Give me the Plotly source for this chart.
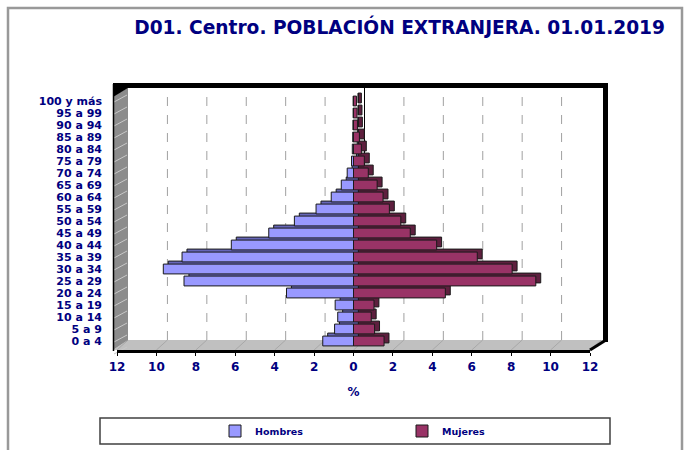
import plotly.graph_objects as go

# ---- data (percent of foreign population) ----
categories = ["0 a 4", "5 a 9", "10 a 14", "15 a 19", "20 a 24", "25 a 29", "30 a 34",
              "35 a 39", "40 a 44", "45 a 49", "50 a 54", "55 a 59", "60 a 64", "65 a 69",
              "70 a 74", "75 a 79", "80 a 84", "85 a 89", "90 a 94", "95 a 99", "100 y más"]
hombres = [1.56, 0.96, 0.80, 0.93, 3.40, 8.60, 9.65, 8.70, 6.20, 4.30, 3.00,
           1.90, 1.13, 0.62, 0.32, 0.10, 0.06, 0.04, 0.03, 0.02, 0.02]
mujeres = [1.55, 1.07, 0.90, 1.04, 4.66, 9.25, 8.05, 6.28, 4.22, 2.88, 2.40,
           1.82, 1.50, 1.20, 0.75, 0.55, 0.40, 0.30, 0.20, 0.18, 0.15]
tick_vals = [-12, -10, -8, -6, -4, -2, 0, 2, 4, 6, 8, 10, 12]
tick_text = ["12", "10", "8", "6", "4", "2", "0", "2", "4", "6", "8", "10", "12"]

NAVY = "#000080"
FONT = "DejaVu Sans"
W, H = 688, 450
L, R, T, B = 117, 98, 88, 100
PW, PH = W - L - R, H - T - B


def PX(px):
    return (px - L) / PW


def PY(py):
    return (H - B - py) / PH


DEPTH_X = 0.25   # 3D depth in x units
DEPTH_Y = 0.25   # 3D depth in category units
BAR_W = 0.82

fig = go.Figure()

# 3D side/top faces (same data, drawn behind)
fig.add_trace(go.Bar(y=categories, x=[-v for v in hombres], base=DEPTH_X, orientation="h",
                     width=BAR_W, offset=-BAR_W / 2 + DEPTH_Y,
                     marker=dict(color="#6666b8", line=dict(color="#1a1a1a", width=1)),
                     showlegend=False, hoverinfo="skip"))
fig.add_trace(go.Bar(y=categories, x=mujeres, base=DEPTH_X, orientation="h",
                     width=BAR_W, offset=-BAR_W / 2 + DEPTH_Y,
                     marker=dict(color="#5e1f3e", line=dict(color="#1a1a1a", width=1)),
                     showlegend=False, hoverinfo="skip"))
# front faces
fig.add_trace(go.Bar(y=categories, x=[-v for v in hombres], orientation="h", name="Hombres",
                     width=BAR_W, customdata=hombres,
                     hovertemplate="%{y}: %{customdata}%<extra>Hombres</extra>",
                     marker=dict(color="#9999FF", line=dict(color="#1a1a1a", width=1))))
fig.add_trace(go.Bar(y=categories, x=mujeres, orientation="h", name="Mujeres",
                     width=BAR_W,
                     hovertemplate="%{y}: %{x}%<extra>Mujeres</extra>",
                     marker=dict(color="#993366", line=dict(color="#1a1a1a", width=1))))

shapes = []
# outer frame
shapes.append(dict(type="rect", xref="paper", yref="paper", x0=PX(8), y0=PY(8), x1=PX(682), y1=PY(470),
                   line=dict(color="#999999", width=2.5), layer="below"))
# legend box
shapes.append(dict(type="rect", xref="paper", yref="paper", x0=PX(100), y0=PY(418), x1=PX(610), y1=PY(444),
                   line=dict(color="#404040", width=1.5), fillcolor="white", layer="below"))
# back wall gridlines (dashed)
ZERO_PX = L + PW / 2
UNIT = PW / 24
BACK_DX = 11
for v in tick_vals[1:-1]:
    if v == 0:
        continue
    xp = PX(ZERO_PX + BACK_DX + v * UNIT)
    shapes.append(dict(type="line", xref="paper", yref="paper", x0=xp, x1=xp, y0=PY(340), y1=PY(88),
                       line=dict(color="#a0a0a0", width=1, dash="dash"), layer="below"))
xp0 = PX(ZERO_PX + BACK_DX)
shapes.append(dict(type="line", xref="paper", yref="paper", x0=xp0, x1=xp0, y0=PY(340), y1=PY(88),
                   line=dict(color="#000000", width=1), layer="below"))
# floor
shapes.append(dict(type="path", xref="paper", yref="paper",
                   path=f"M{PX(113)},{PY(350)} L{PX(128)},{PY(340)} L{PX(605)},{PY(340)} L{PX(590)},{PY(350)} Z",
                   fillcolor="#c0c0c0", line=dict(width=0), layer="below"))
for v in tick_vals:
    xf = ZERO_PX + v * UNIT
    shapes.append(dict(type="line", xref="paper", yref="paper", x0=PX(xf), y0=PY(350),
                       x1=PX(xf + BACK_DX), y1=PY(340), line=dict(color="#a8a8a8", width=1), layer="below"))
# left wall
shapes.append(dict(type="path", xref="paper", yref="paper",
                   path=f"M{PX(113)},{PY(350)} L{PX(113)},{PY(96)} L{PX(128)},{PY(88)} L{PX(128)},{PY(340)} Z",
                   fillcolor="#8c8c8c", line=dict(width=0), layer="below"))
for i in range(22):
    py = 95 + 12 * i
    shapes.append(dict(type="line", xref="paper", yref="paper", x0=PX(114), y0=PY(py + 7),
                       x1=PX(127), y1=PY(py), line=dict(color="#c8c8c8", width=1), layer="below"))
shapes.append(dict(type="line", xref="paper", yref="paper", x0=PX(113.5), y0=PY(351), x1=PX(113.5), y1=PY(84),
                   line=dict(color="#000000", width=1.5), layer="below"))
# top and right black borders
shapes.append(dict(type="rect", xref="paper", yref="paper", x0=PX(113), y0=PY(88), x1=PX(608), y1=PY(83),
                   fillcolor="#000000", line=dict(width=0), layer="below"))
shapes.append(dict(type="path", xref="paper", yref="paper",
                   path=f"M{PX(113)},{PY(88)} L{PX(128)},{PY(88)} L{PX(113)},{PY(97)} Z",
                   fillcolor="#000000", line=dict(width=0), layer="below"))
shapes.append(dict(type="rect", xref="paper", yref="paper", x0=PX(603), y0=PY(342), x1=PX(608), y1=PY(83),
                   fillcolor="#000000", line=dict(width=0), layer="below"))
shapes.append(dict(type="line", xref="paper", yref="paper", x0=PX(606), y0=PY(340), x1=PX(590), y1=PY(350),
                   line=dict(color="#000000", width=3), layer="below"))

yrange = [-0.75, len(categories) - 1 + 13 / 12]

fig.update_layout(
    width=W, height=H,
    margin=dict(l=L, r=R, t=T, b=B, autoexpand=False),
    paper_bgcolor="white", plot_bgcolor="rgba(0,0,0,0)",
    barmode="overlay",
    font=dict(family=FONT, color=NAVY),
    title=dict(text="D01. Centro. POBLACIÓN EXTRANJERA. 01.01.2019",
               font=dict(family=FONT, size=18.6, color=NAVY, weight="bold"),
               xref="container", x=665 / W, xanchor="right",
               yref="container", y=1 - 27 / H, yanchor="middle"),
    xaxis=dict(range=[-12, 12], tickvals=tick_vals, ticktext=tick_text,
               showgrid=False, zeroline=False, showline=True, linecolor="#000000", linewidth=3,
               ticks="outside", ticklen=3, tickcolor="#000000",
               tickfont=dict(family=FONT, size=12, color=NAVY, weight="bold"),
               ticklabelstandoff=1,
               title=dict(text="%", standoff=15, font=dict(family=FONT, size=12, color=NAVY, weight="bold"))),
    yaxis=dict(type="category", categoryorder="array", categoryarray=categories, range=yrange,
               tickmode="array", tickvals=categories, ticktext=categories,
               showgrid=False, zeroline=False, showline=False, ticks="",
               tickfont=dict(family=FONT, size=11, color=NAVY, weight="bold"),
               ticklabelstandoff=14),
    yaxis2=dict(overlaying="y", anchor="free", position=0.5, range=yrange,
                tickvals=[i - 0.5 for i in range(len(categories) + 1)],
                showticklabels=False, ticks="outside", ticklen=5, tickwidth=1.5, tickcolor="#000000",
                showline=True, linecolor="#101040", linewidth=1.5, showgrid=False, zeroline=False),
    legend=dict(orientation="h", x=PX(215), xanchor="left", y=PY(431), yanchor="middle",
                entrywidth=142, entrywidthmode="pixels", bgcolor="rgba(0,0,0,0)",
                font=dict(family=FONT, size=9.5, color=NAVY, weight="bold")),
    shapes=shapes,
    showlegend=True,
)

fig.write_html("out.html", config={"displayModeBar": False},
               post_script="document.body.style.margin='0';")
